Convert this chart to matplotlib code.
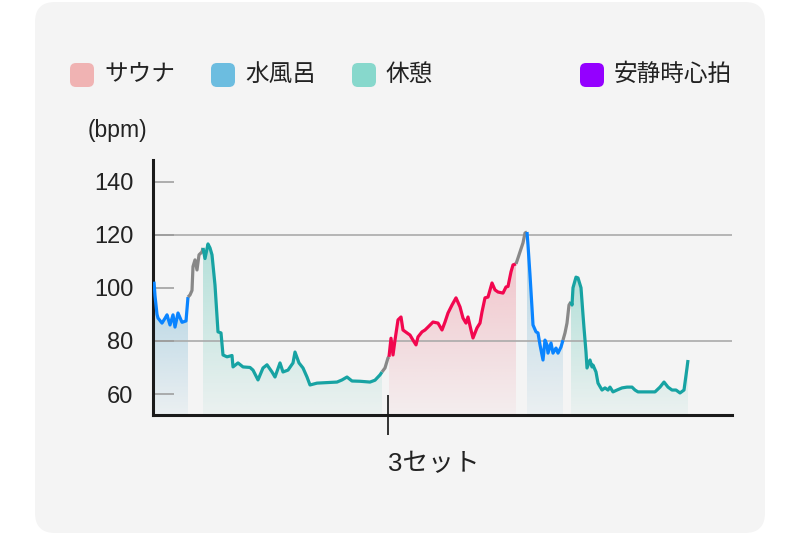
import numpy as np
import matplotlib
matplotlib.use('Agg')
import matplotlib.pyplot as plt
from matplotlib.patches import FancyBboxPatch
from matplotlib import colors as mcolors

plt.rcParams['font.family'] = ['Liberation Sans', 'Noto Sans CJK JP']

# heart rate trace (time in arbitrary steps, bpm)
t = [0, 1, 3, 4, 8, 11, 13, 16, 19, 21, 24, 28, 32, 34, 36, 38, 39, 41, 43, 45,
     48, 49, 51, 54, 56, 58, 61, 64, 67, 69, 73, 78, 79, 84, 89, 96, 99, 104, 109, 113,
     118, 121, 126, 129, 134, 139, 141, 145, 149, 153, 156, 163, 173, 183, 188, 193, 198, 206, 216, 221,
     226, 228, 231, 234, 235, 237, 239, 241, 244, 247, 249, 253, 256, 259, 262, 264, 268, 271, 274, 279,
     284, 288, 291, 294, 298, 302, 306, 309, 312, 314, 317, 319, 323, 326, 328, 331, 334, 338, 341, 344,
     349, 352, 354, 357, 359, 362, 364, 366, 369, 371, 373, 374, 376, 378, 379, 382, 384, 386, 389, 391,
     393, 394, 397, 399, 402, 404, 407, 409, 411, 413, 415, 417, 418, 419, 422, 424, 427, 429, 430, 432,
     433, 436, 438, 439, 442, 444, 448, 451, 454, 456, 459, 463, 468, 473, 478, 481, 484, 493, 501, 506,
     510, 514, 518, 522, 526, 530, 533, 534]
hr = [102.3, 97, 90, 88.6, 86.7, 88.5, 89.8, 86, 89.8, 85.2, 90.5, 87, 87.5, 96.5, 97.3, 99, 108, 110.5, 106.7, 112.4,
      113.5, 115, 111, 116.5, 115, 112.4, 101, 83.4, 83, 74.7, 74, 74.5, 70.2, 71.7, 70.2, 70, 69, 65.3, 69.8, 71,
      68.3, 66.4, 71.7, 68.3, 69, 71.7, 75.8, 71.7, 69.8, 66.4, 63.4, 64.1, 64.3, 64.5, 65.3, 66.4, 64.9, 64.8, 64.5, 65.2,
      67.2, 68.3, 69.8, 73.6, 74, 81, 74.7, 80.3, 87.9, 89, 84.1, 83, 82.2, 80.3, 78.5, 81.5, 83.4, 84.1, 85.2, 87.1,
      86.7, 84.1, 87.1, 90.5, 93.5, 96.2, 92.8, 88.6, 86.7, 89, 84.1, 81.1, 84.9, 86.7, 90.9, 96.2, 96.5, 101.8, 99.2, 98.4,
      98, 100.3, 100.5, 106, 108.6, 109, 111.2, 113.5, 116.9, 120.6, 121, 116.1, 104.8, 92.4, 86, 83.4, 83, 78.5, 72.8, 80.3,
      78.5, 75.4, 79.2, 75.4, 77.3, 75.4, 77.7, 80.3, 83, 86.7, 93.5, 94.7, 93.5, 100, 104, 103.7, 100, 89.8, 84.9, 75.8,
      69.8, 72.8, 70.2, 70.9, 68.3, 64.1, 61.5, 62.3, 61.5, 62.6, 60.8, 61.5, 62.3, 62.6, 62.6, 61.5, 60.8, 60.8, 60.8, 62.6,
      64.5, 62.6, 61.5, 61.5, 60.4, 61.5, 69.8, 72.8]

phase_names = ['水風呂', '移動', '休憩', '移動', 'サウナ', '移動', '水風呂', '移動', '休憩']
phase_start = [0, 34, 49, 228, 235, 362, 373, 409, 417]
phase_end = [34, 49, 228, 235, 362, 373, 409, 417, 534]

set_pos = 234
set_label = '3セット'
yticks = [60, 80, 100, 120, 140]
grid_values = [80, 120]

legend_labels = ['サウナ', '水風呂', '休憩', '安静時心拍']
legend_colors = ['#f0b3b3', '#6cbde0', '#87d8cc', '#9400ff']

line_colors = {'サウナ': '#f2074f', '水風呂': '#0a84ff', '休憩': '#17a3a3', '移動': '#888888'}
fill_colors = {'サウナ': '#ee8896', '水風呂': '#5aa8cc', '休憩': '#5cc4b4'}

YMIN, YMAX = 52.1, 148.1

fig = plt.figure(figsize=(8, 5.39), dpi=100)
fig.patch.set_facecolor('white')

# background panel + legend in pixel coordinates
bg = fig.add_axes([0, 0, 1, 1], zorder=-1)
bg.set_xlim(0, 800)
bg.set_ylim(539, 0)
bg.axis('off')
bg.add_patch(FancyBboxPatch((35, 2), 730, 531, boxstyle='round,pad=0,rounding_size=20',
                            fc='#f4f4f4', ec='none'))

sw_x = [70, 211, 352, 580]
for x0, lab, col in zip(sw_x, legend_labels, legend_colors):
    bg.add_patch(FancyBboxPatch((x0, 63), 24, 24, boxstyle='round,pad=0,rounding_size=6',
                                fc=col, ec='none'))
    bg.text(x0 + 34, 75, lab, fontsize=17, color='#222222', ha='left', va='center')

bg.text(117, 131, '(bpm)', fontsize=16.5, color='#222222', ha='center', va='center')

ax = fig.add_axes([153 / 800, 124 / 539, 579 / 800, 255 / 539])
ax.set_facecolor('none')

t_arr = np.array(t)
hr_arr = np.array(hr)


def grad_fill(ax, x, y, color):
    poly = ax.fill_between(x, y, YMIN, color='none', lw=0)
    rgb = mcolors.to_rgb(color)
    img = np.zeros((100, 1, 4))
    img[:, :, :3] = rgb
    img[:, 0, 3] = np.linspace(0.42, 0.06, 100)
    im = ax.imshow(img, extent=[x[0], x[-1], YMIN, y.max()], aspect='auto',
                   origin='upper', zorder=1, interpolation='bilinear')
    im.set_clip_path(poly.get_paths()[0], transform=ax.transData)


for name, s, e in zip(phase_names, phase_start, phase_end):
    m = (t_arr >= s) & (t_arr <= e)
    x = t_arr[m]
    y = hr_arr[m]
    if name in fill_colors:
        grad_fill(ax, x, y, fill_colors[name])
    ax.plot(x, y, color=line_colors[name], lw=2.3, zorder=3, solid_capstyle='butt')

for g in grid_values:
    ax.axhline(g, color='#aaaaaa', lw=1.2, zorder=1.5)

ax.set_xlim(-1, 578)
ax.set_ylim(YMIN, YMAX)

for side in ['top', 'right']:
    ax.spines[side].set_visible(False)
for side in ['left', 'bottom']:
    ax.spines[side].set_linewidth(2.2)
    ax.spines[side].set_color('#1a1a1a')

ax.set_yticks(yticks)
ax.tick_params(axis='y', direction='in', length=15, width=1.1, color='#999999',
               labelsize=17, labelcolor='#222222', pad=14)
ax.set_xticks([set_pos])
ax.set_xticklabels([set_label])
ax.tick_params(axis='x', direction='inout', length=29, width=1.2, color='#111111',
               labelsize=18.5, labelcolor='#222222', pad=12)
for lbl in ax.get_xticklabels():
    lbl.set_horizontalalignment('left')

fig.savefig('out.png', dpi=100)
